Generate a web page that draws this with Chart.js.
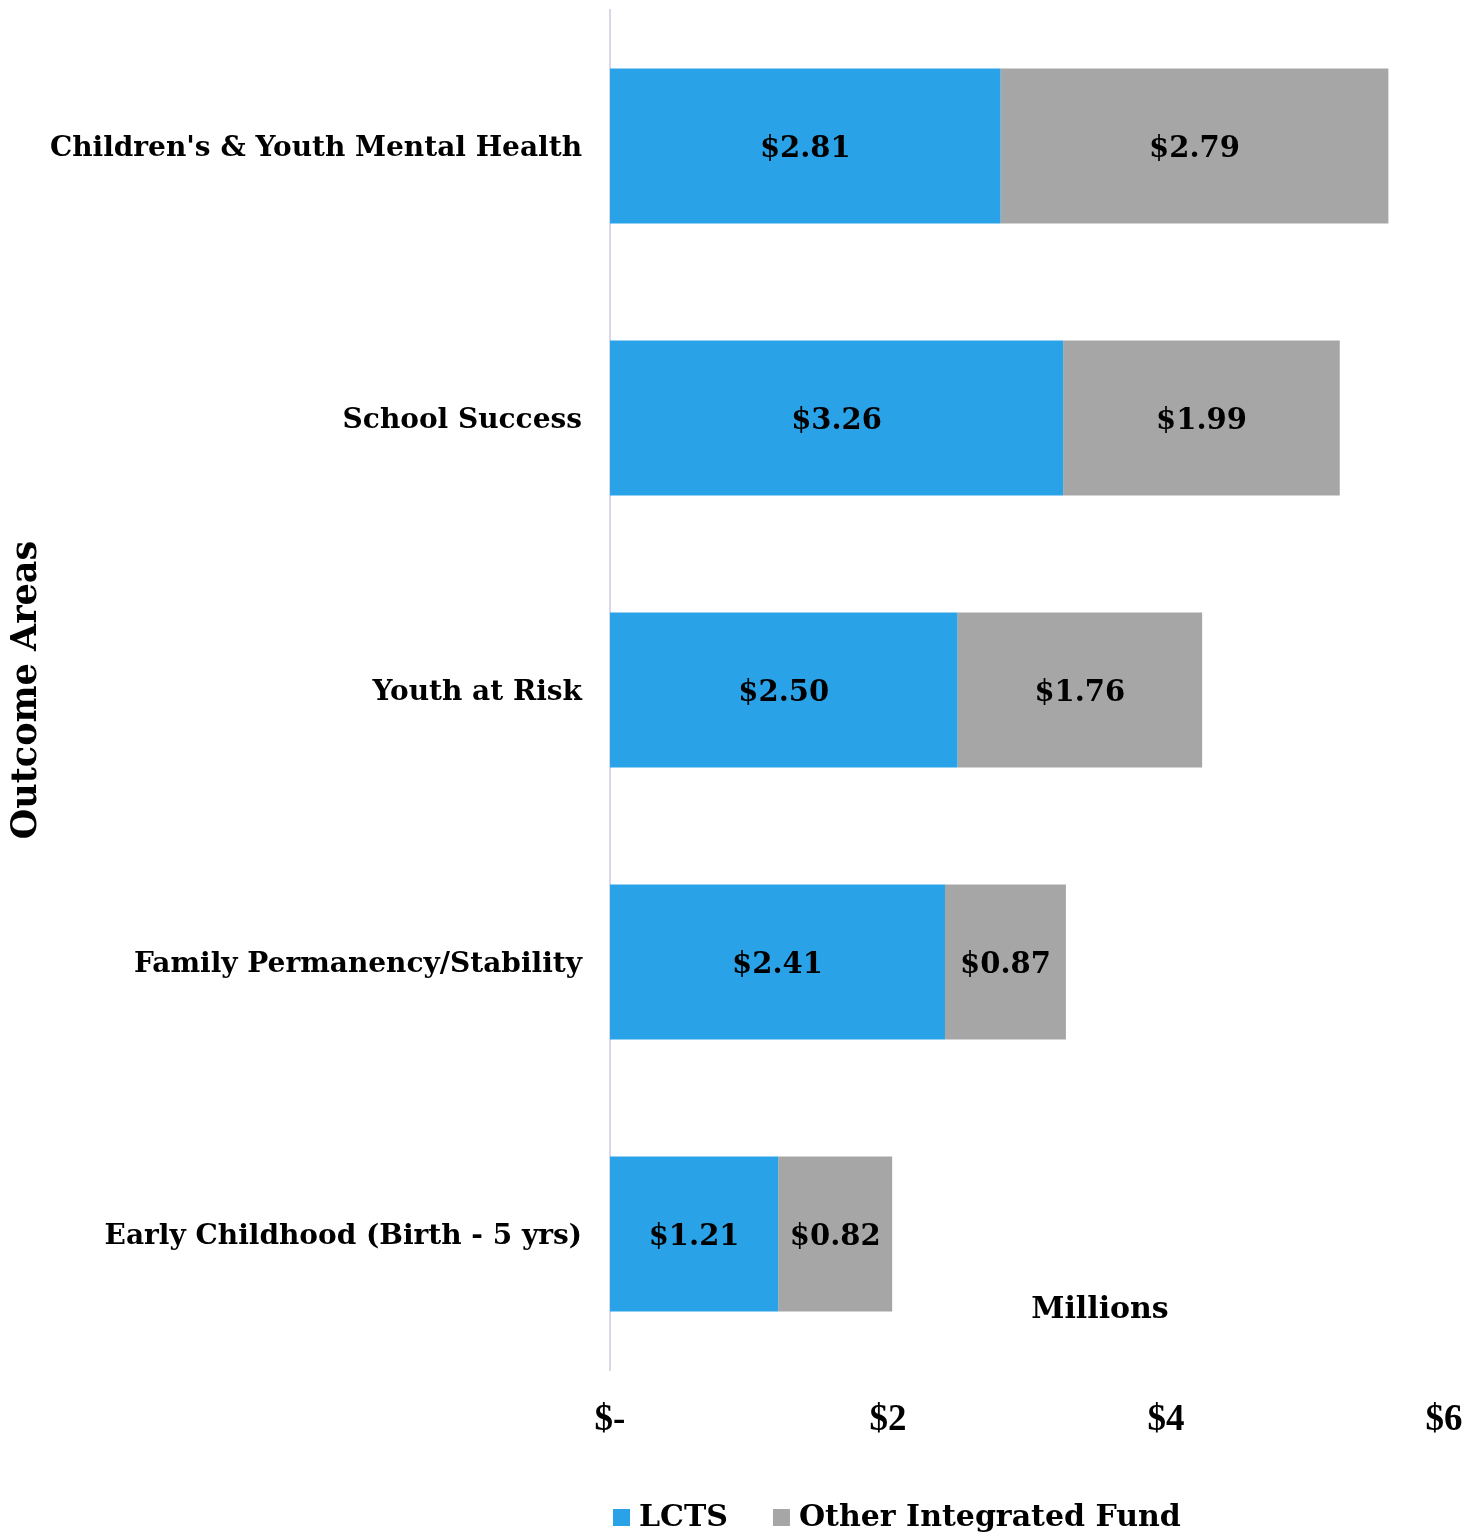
<!DOCTYPE html>
<html>
<head>
<meta charset="utf-8">
<script src="https://cdn.jsdelivr.net/npm/chart.js@4/dist/chart.umd.min.js"></script>
<style>
  html, body { margin: 0; padding: 0; background: #fff; }
  #wrap { width: 1469px; height: 1537px; position: relative; }
</style>
</head>
<body>
<div id="wrap"><canvas id="fundChart"></canvas></div>
<script>
// Outcome areas and funding (millions)
const categories = [
    "Children's & Youth Mental Health",
    'School Success',
    'Youth at Risk',
    'Family Permanency/Stability',
    'Early Childhood (Birth - 5 yrs)'
];
const lctsValues = [2.81, 3.26, 2.50, 2.41, 1.21];
const otherValues = [2.79, 1.99, 1.76, 0.87, 0.82];
const seriesNames = ['LCTS', 'Other Integrated Fund'];
const xTicks = [0, 2, 4, 6];

const BLUE = '#2AA2E8';
const GREY = '#A6A6A6';
const SERIF = '"DejaVu Serif", Georgia, serif';

// Value labels in the middle of each bar segment
const barLabels = {
    id: 'barLabels',
    afterDatasetsDraw(chart) {
        const ctx = chart.ctx;
        ctx.save();
        ctx.font = 'bold 29px ' + SERIF;
        ctx.fillStyle = '#000';
        ctx.textAlign = 'center';
        ctx.textBaseline = 'middle';
        chart.data.datasets.forEach((ds, i) => {
            chart.getDatasetMeta(i).data.forEach((bar, j) => {
                const x = (bar.x + bar.base) / 2;
                ctx.fillText('$' + ds.data[j].toFixed(2), x, bar.y + 3);
            });
        });
        ctx.restore();
    }
};

// "Millions" note and legend at the bottom
const extras = {
    id: 'extras',
    afterDraw(chart) {
        const ctx = chart.ctx;
        ctx.save();
        ctx.fillStyle = '#000';
        ctx.font = 'bold 30px ' + SERIF;
        ctx.textAlign = 'center';
        ctx.textBaseline = 'middle';
        ctx.fillText('Millions', 1100, 1310);

        // legend
        ctx.textAlign = 'left';
        let x = 613;
        const y = 1518;
        chart.data.datasets.forEach(ds => {
            ctx.fillStyle = ds.backgroundColor;
            ctx.fillRect(x, y - 9, 17, 17);
            ctx.fillStyle = '#000';
            ctx.fillText(ds.label, x + 26, y);
            x += 26 + ctx.measureText(ds.label).width + 45;
        });
        ctx.restore();
    }
};

new Chart(document.getElementById('fundChart'), {
    type: 'bar',
    data: {
        labels: categories,
        datasets: [
            { label: seriesNames[0], data: lctsValues, backgroundColor: BLUE },
            { label: seriesNames[1], data: otherValues, backgroundColor: GREY }
        ]
    },
    options: {
        indexAxis: 'y',
        responsive: true,
        maintainAspectRatio: false,
        animation: false,
        layout: { padding: { top: 10, right: 25, left: 0, bottom: 0 } },
        datasets: {
            bar: { categoryPercentage: 0.57, barPercentage: 1.0, borderWidth: 0 }
        },
        plugins: {
            legend: { display: false },
            tooltip: { enabled: false }
        },
        scales: {
            x: {
                stacked: true,
                min: 0,
                max: 6,
                afterBuildTicks(scale) {
                    scale.ticks = xTicks.map(v => ({ value: v }));
                },
                afterFit(scale) {
                    scale.height = 167;
                    scale.paddingLeft = 0;
                    scale.paddingRight = 0;
                },
                grid: { display: false, drawTicks: false },
                border: { display: false },
                ticks: {
                    padding: 28,
                    color: '#000',
                    font: { family: '"Liberation Serif", serif', weight: 'bold', size: 37 },
                    callback: v => (v === 0 ? '$-' : '$' + v)
                }
            },
            y: {
                stacked: true,
                afterFit(scale) {
                    scale.width = 610;
                    scale.paddingTop = 0;
                    scale.paddingBottom = 0;
                },
                grid: { display: false, drawTicks: false },
                border: { display: true, color: '#D9D9E6', width: 2 },
                ticks: {
                    padding: 28,
                    labelOffset: 3,
                    color: '#000',
                    font: { family: SERIF, weight: 'bold', size: 28 }
                },
                title: {
                    display: true,
                    text: 'Outcome Areas',
                    color: '#000',
                    padding: { top: 6, bottom: 0 },
                    font: { family: SERIF, weight: 'bold', size: 35 }
                }
            }
        }
    },
    plugins: [barLabels, extras]
});
</script>
</body>
</html>
